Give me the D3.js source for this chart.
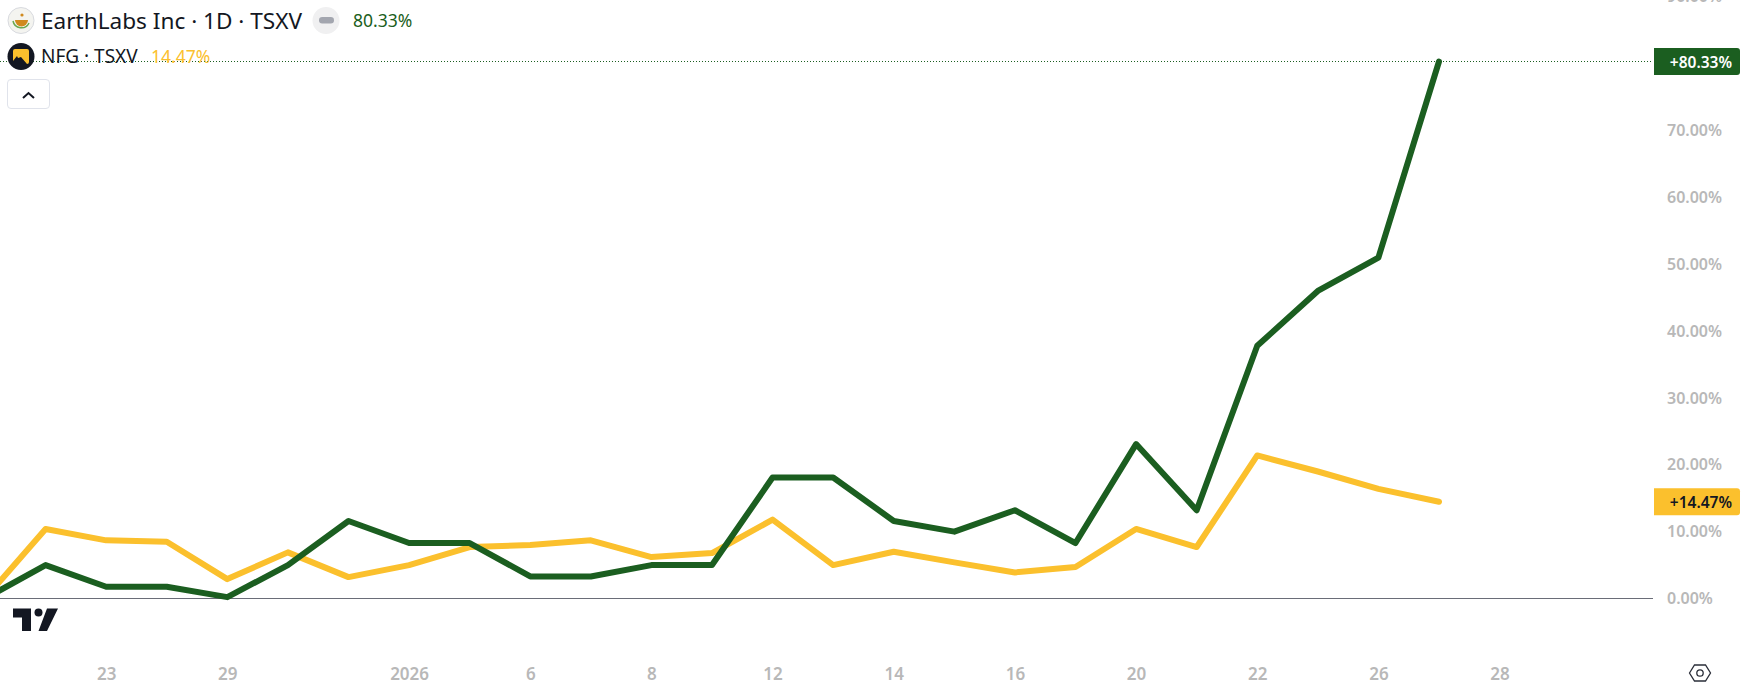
<!DOCTYPE html>
<html>
<head>
<meta charset="utf-8">
<script src="https://cdnjs.cloudflare.com/ajax/libs/d3/7.8.5/d3.min.js"></script>
<style>
html, body { margin: 0; padding: 0; background: #fff; overflow: hidden; }
text { font-family: "Noto Sans", "Open Sans", sans-serif; }
</style>
</head>
<body>
<div id="chart"></div>
<script>
// one slot per trading day, first one is the base point of the comparison
var days = d3.range(0, 25);
var earthlabs = [0, 5, 1.75, 1.75, 0.2, 5, 11.6, 8.3, 8.3, 3.3, 3.3, 5, 5, 18.1, 18.1, 11.6, 10, 13.2, 8.3, 23.1, 13.2, 37.8, 46, 51, 80.33];
var nfg = [0, 10.4, 8.7, 8.5, 2.9, 6.9, 3.2, 5, 7.7, 8, 8.7, 6.2, 6.8, 11.8, 5, 7, 5.4, 3.9, 4.7, 10.4, 7.7, 21.4, 19, 16.4, 14.47];
// 80 sits behind the last value tag, so it has no label
var yTicks = [0, 10, 20, 30, 40, 50, 60, 70, 90];
var xLabels = ["23", "29", "2026", "6", "8", "12", "14", "16", "20", "22", "26", "28"];
var xLabelSlots = [2, 4, 7, 9, 11, 13, 15, 17, 19, 21, 23, 25];

var green = "#1b5e20";
var yellow = "#fbc02d";
var width = 1741;
var height = 688;

var svg = d3.select("#chart").append("svg")
    .attr("width", width)
    .attr("height", height)
    .style("display", "block");

var x = d3.scaleLinear().domain([0, 24]).range([-15, 1439]);
var y = d3.scaleLinear().domain([0, 80.33]).range([598.5, 61.5]);

// zero line and last value line
svg.append("line")
    .attr("x1", 0).attr("x2", 1653)
    .attr("y1", y(0)).attr("y2", y(0))
    .attr("stroke", "#6a6d78").attr("stroke-width", 1);

svg.append("line")
    .attr("x1", 0).attr("x2", 1653)
    .attr("y1", y(80.33)).attr("y2", y(80.33))
    .attr("stroke", green).attr("stroke-width", 1)
    .attr("stroke-dasharray", "1 2");

var line = d3.line()
    .x(function(d, i) { return x(days[i]); })
    .y(function(d) { return y(d); });

svg.append("path")
    .attr("d", line(nfg))
    .attr("fill", "none")
    .attr("stroke", yellow)
    .attr("stroke-width", 6)
    .attr("stroke-linecap", "round")
    .attr("stroke-linejoin", "round");

svg.append("path")
    .attr("d", line(earthlabs))
    .attr("fill", "none")
    .attr("stroke", green)
    .attr("stroke-width", 6)
    .attr("stroke-linecap", "round")
    .attr("stroke-linejoin", "round");

// right axis
var yAxis = d3.axisRight(y)
    .tickValues(yTicks)
    .tickSize(0)
    .tickPadding(0)
    .tickFormat(function(d) { return d.toFixed(2) + "%"; });

var yG = svg.append("g")
    .attr("transform", "translate(1667,0)")
    .call(yAxis);
yG.select(".domain").remove();
yG.selectAll("text")
    .attr("fill", "#b8b8b8")
    .style("font-size", "16px")
    .style("font-weight", 600);

// bottom axis
var xAxis = d3.axisBottom(x)
    .tickValues(xLabelSlots)
    .tickSize(0)
    .tickPadding(0)
    .tickFormat(function(d, i) { return xLabels[i]; });

var xG = svg.append("g")
    .attr("transform", "translate(0,668)")
    .call(xAxis);
xG.select(".domain").remove();
xG.selectAll("text")
    .attr("fill", "#b8b8b8")
    .style("font-size", "17px")
    .style("font-weight", 600);

// price tags
function tag(value, label, fill, textFill) {
    svg.append("path")
        .attr("d", "M1654," + (y(value) - 13.5) + "h83a3,3 0 0 1 3,3v21a3,3 0 0 1 -3,3h-83z")
        .attr("fill", fill);
    svg.append("text")
        .attr("x", 1732)
        .attr("y", y(value) + 6)
        .attr("text-anchor", "end")
        .attr("fill", textFill)
        .style("font-size", "15.5px")
        .style("font-weight", 600)
        .text(label);
}
tag(80.33, "+80.33%", green, "#fff");
tag(14.47, "+14.47%", yellow, "#131722");

// legend
var legend = svg.append("g");
legend.append("circle").attr("cx", 21).attr("cy", 20.5).attr("r", 13)
    .attr("fill", "#f4f4f0").attr("stroke", "#d8dadf");
legend.append("path").attr("d", "M15,20a6.5,6.5 0 0 0 13,0z").attr("fill", "#d08a1e");
legend.append("path").attr("d", "M13,21a8.5,8.5 0 0 0 16,2").attr("fill", "none").attr("stroke", "#6aa84f").attr("stroke-width", 1.5);
legend.append("circle").attr("cx", 22).attr("cy", 15).attr("r", 1.6).attr("fill", "#d08a1e");

legend.append("text").attr("x", 41).attr("y", 29)
    .attr("fill", "#131722").style("font-size", "22.6px")
    .text("EarthLabs Inc · 1D · TSXV");
legend.append("circle").attr("cx", 326).attr("cy", 20.5).attr("r", 13.5).attr("fill", "#f0f0f1");
legend.append("rect").attr("x", 319).attr("y", 17).attr("width", 15).attr("height", 6.5).attr("rx", 3.2).attr("fill", "#a3a6af");
legend.append("text").attr("x", 353).attr("y", 27)
    .attr("fill", green).style("font-size", "17.5px")
    .text("80.33%");

legend.append("circle").attr("cx", 21).attr("cy", 56.5).attr("r", 13.5).attr("fill", "#131722");
legend.append("rect").attr("x", 13).attr("y", 49).attr("width", 16).attr("height", 15).attr("rx", 2).attr("fill", "#fbc02d");
legend.append("path").attr("d", "M13,64v-3l4,-5l1,2l3,-1l6,7z").attr("fill", "#131722");
legend.append("text").attr("x", 41).attr("y", 63)
    .attr("fill", "#131722").style("font-size", "19px")
    .text("NFG · TSXV");
legend.append("text").attr("x", 151).attr("y", 63)
    .attr("fill", yellow).style("font-size", "17.5px")
    .text("14.47%");

// collapse button
legend.append("rect").attr("x", 7.5).attr("y", 79.5).attr("width", 42).attr("height", 29).attr("rx", 3.5)
    .attr("fill", "#fff").attr("stroke", "#e0e3eb");
legend.append("path").attr("d", "M23,98l5.5,-5l5.5,5").attr("fill", "none").attr("stroke", "#131722").attr("stroke-width", 2);

// tradingview mark
svg.append("path")
    .attr("d", "M13,608.5h18v22.5h-9v-13.5h-9z M47,608.5h11l-11,22.5h-8.5z")
    .attr("fill", "#131722");
svg.append("circle").attr("cx", 38.5).attr("cy", 612.5).attr("r", 4).attr("fill", "#131722");

// settings hexagon
svg.append("path")
    .attr("d", "M1689.5,673l5,-8h11l5,8l-5,8h-11z")
    .attr("fill", "none").attr("stroke", "#2a2e39").attr("stroke-width", 1.3);
svg.append("circle").attr("cx", 1700).attr("cy", 673).attr("r", 3.2)
    .attr("fill", "none").attr("stroke", "#2a2e39").attr("stroke-width", 1.3);
</script>
</body>
</html>
